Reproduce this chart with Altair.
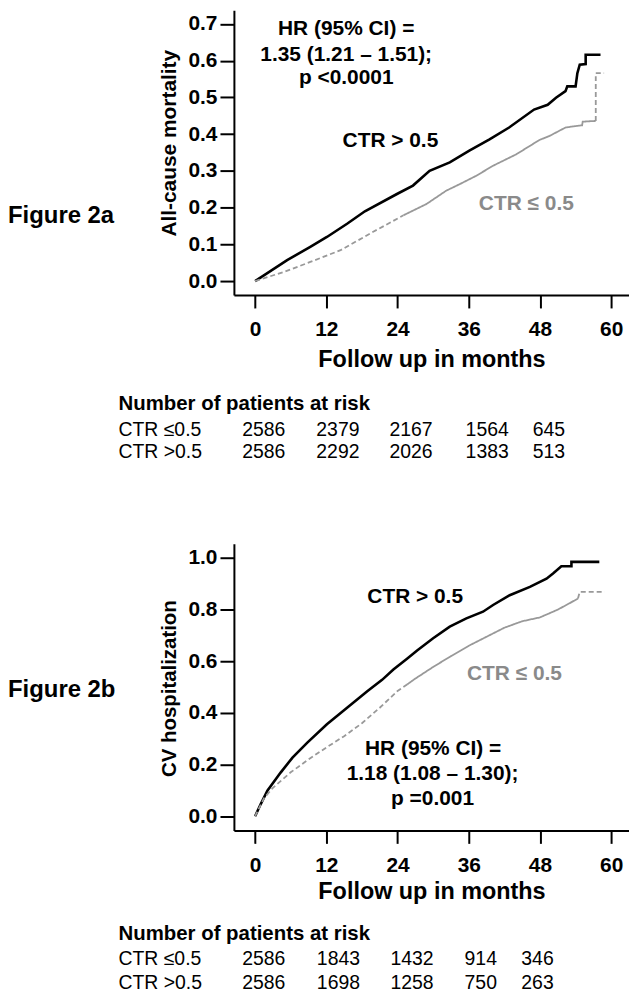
import altair as alt
import pandas as pd

FONT = "Liberation Sans"
BLACK = "#000000"
GRAY_LINE = "#999999"
GRAY_TEXT = "#8a8a8a"

# ---------------- Figure 2a : all-cause mortality ----------------
a_hi_t = [0, 5.4, 9.3, 12.1, 15.5, 18.5, 23.9, 26.6, 29.4, 32.8, 36.1, 39.5, 42.8,
          47.0, 49.3, 50.7, 52.3, 52.6, 54.0, 54.3, 54.7, 55.7, 55.7, 58.2]
a_hi_v = [0, 0.057, 0.093, 0.12, 0.156, 0.19, 0.237, 0.26, 0.30, 0.323, 0.355, 0.386, 0.418,
          0.467, 0.48, 0.499, 0.517, 0.53, 0.53, 0.566, 0.589, 0.591, 0.616, 0.616]
a_lo_t = [0, 4.9, 9.3, 14.4, 19.9, 25.0, 28.9, 32.2, 34.5, 37.3, 40.1, 44.0, 46.8, 47.9,
          49.6, 52.3, 54.0, 55.1, 55.2, 57.4, 57.4, 58.8]
a_lo_v = [0, 0.025, 0.052, 0.084, 0.134, 0.179, 0.21, 0.246, 0.264, 0.287, 0.314, 0.345,
          0.373, 0.384, 0.395, 0.418, 0.422, 0.424, 0.434, 0.436, 0.566, 0.566]

# ---------------- Figure 2b : CV hospitalization ----------------
b_hi_t = [0, 0.95, 2.07, 4.3, 6.3, 8.8, 12.1, 15.5, 18.9, 21.4, 23.3, 25.6, 27.3, 30.0,
          32.8, 35.6, 38.4, 40.1, 42.9, 46.3, 49.1, 50.2, 51.6, 53.3, 53.3, 58.0]
b_hi_v = [0, 0.047, 0.099, 0.169, 0.227, 0.285, 0.356, 0.42, 0.484, 0.528, 0.568, 0.61,
          0.642, 0.689, 0.734, 0.766, 0.792, 0.818, 0.856, 0.888, 0.92, 0.94, 0.968, 0.968,
          0.985, 0.985]
b_lo_t = [0, 1.5, 3, 6, 9, 12, 15, 18, 21, 24, 25.6, 27, 30, 33, 36, 39, 42, 45, 48, 51,
          53, 54.4, 54.7, 58.9]
b_lo_v = [0, 0.07, 0.11, 0.17, 0.22, 0.266, 0.31, 0.36, 0.42, 0.485, 0.51, 0.533, 0.578,
          0.62, 0.66, 0.695, 0.73, 0.755, 0.77, 0.80, 0.825, 0.843, 0.869, 0.869]

# ---------------- numbers at risk ----------------
risk_months = [0, 12, 24, 36, 48]
a_risk_le = [2586, 2379, 2167, 1564, 645]
a_risk_gt = [2586, 2292, 2026, 1383, 513]
b_risk_le = [2586, 1843, 1432, 914, 346]
b_risk_gt = [2586, 1698, 1258, 750, 263]

# ---------------- layout (positions / styles) ----------------
a_lo_dash_idx = (5, 19)      # solid part from point 5 to point 19
b_lo_dash_idx = (10, 21)
a_risk_pos = [1.46, 13.95, 26.28, 39.1, 49.5]     # column centres, in months on x scale
b_risk_pos = [1.46, 14.04, 26.45, 38.02, 47.58]

XS = alt.Scale(domain=[-3.57, 63.0], nice=False, zero=False)
W = 397


def x_axis(title_y):
    return alt.Axis(values=[0, 12, 24, 36, 48, 60], format="d", tickSize=13, tickWidth=2,
                    domainWidth=2, labelPadding=11, labelFontSize=21, labelFontWeight="bold",
                    labelFlush=False, title="Follow up in months", titleFontSize=23.5,
                    titleFontWeight="bold", titleY=title_y, titleBaseline="alphabetic",
                    grid=False)


def y_axis(values, title, title_y, title_size):
    return alt.Axis(values=values, format=".1f", tickSize=14, tickWidth=2, domainWidth=2,
                    labelPadding=3, labelFontSize=21, labelFontWeight="bold", labelFlush=False,
                    title=title, titleFontSize=title_size, titleFontWeight="bold",
                    titleX=-65, titleY=title_y, titleAngle=270, titleBaseline="middle",
                    titleAlign="center", grid=False)


def gray_df(t, v, idx):
    s, e = idx
    parts = [("dash", 0, s), ("solid", s, e), ("dash", e, len(t) - 1)]
    rows = []
    for k, (style, i0, i1) in enumerate(parts):
        for i in range(i0, i1 + 1):
            rows.append({"t": t[i], "v": v[i], "i": i, "seg": k, "style": style})
    return pd.DataFrame(rows)


def panel(hi_t, hi_v, lo_t, lo_v, dash_idx, ydom, yvals, ytitle, ytitle_y, ytitle_size,
          height, xtitle_y, fig_label, fig_y, annots, risk_le, risk_gt, risk_pos, table_y):
    YS = alt.Scale(domain=ydom, nice=False, zero=False)
    XA = x_axis(xtitle_y)
    YA = y_axis(yvals, ytitle, ytitle_y, ytitle_size)
    X = alt.X("t:Q", scale=XS, axis=XA)
    Y = alt.Y("v:Q", scale=YS, axis=YA)

    hi = pd.DataFrame({"t": hi_t, "v": hi_v, "i": list(range(len(hi_t)))})
    black = alt.Chart(hi).mark_line(color=BLACK, strokeWidth=2.6).encode(
        x=X, y=Y, order="i:Q")

    gray = alt.Chart(gray_df(lo_t, lo_v, dash_idx)).mark_line(
        color=GRAY_LINE, strokeWidth=1.8).encode(
        x=X, y=Y, order="i:Q", detail="seg:N",
        strokeDash=alt.StrokeDash("style:N", legend=None,
                                  scale=alt.Scale(domain=["dash", "solid"],
                                                  range=[[5, 3], [1, 0]])))

    ann = pd.DataFrame(annots, columns=["t", "v", "label", "col"])
    ann_layer = alt.Chart(ann).mark_text(fontSize=21, fontWeight="bold", align="center",
                                         baseline="middle").encode(
        x=X, y=Y, text="label:N", color=alt.Color("col:N", scale=None))

    fig = alt.Chart(pd.DataFrame({"label": [fig_label]})).mark_text(
        fontSize=24, fontWeight="bold", align="left", baseline="alphabetic").encode(
        x=alt.value(-227), y=alt.value(fig_y), text="label:N")

    ttl = alt.Chart(pd.DataFrame({"label": ["Number of patients at risk"]})).mark_text(
        fontSize=20.5, fontWeight="bold", align="left", baseline="alphabetic").encode(
        x=alt.value(-116), y=alt.value(table_y[0]), text="label:N")

    layers = [black, gray, ann_layer, fig, ttl]
    for row_label, counts, ry in (("CTR \u22640.5", risk_le, table_y[1]),
                                  ("CTR >0.5", risk_gt, table_y[2])):
        layers.append(alt.Chart(pd.DataFrame({"label": [row_label]})).mark_text(
            fontSize=19.5, align="left", baseline="alphabetic").encode(
            x=alt.value(-116), y=alt.value(ry), text="label:N"))
        df = pd.DataFrame({"t": risk_pos, "m": risk_months, "n": counts})
        layers.append(alt.Chart(df).mark_text(
            fontSize=19.5, align="center", baseline="alphabetic").encode(
            x=X, y=alt.value(ry), text=alt.Text("n:Q", format="d")))

    return alt.layer(*layers).properties(width=W, height=height)


annots_a = [
    (15.35, 0.686, "HR (95% CI) =", BLACK),
    (15.35, 0.616, "1.35 (1.21 \u2013 1.51);", BLACK),
    (15.35, 0.553, "p <0.0001", BLACK),
    (22.8, 0.381, "CTR > 0.5", BLACK),
    (45.7, 0.211, "CTR \u2264 0.5", GRAY_TEXT),
]
annots_b = [
    (30.0, 0.261, "HR (95% CI) =", BLACK),
    (29.9, 0.163, "1.18 (1.08 \u2013 1.30);", BLACK),
    (29.9, 0.067, "p =0.001", BLACK),
    (26.97, 0.850, "CTR > 0.5", BLACK),
    (43.7, 0.552, "CTR \u2264 0.5", GRAY_TEXT),
]

pa = panel(a_hi_t, a_hi_v, a_lo_t, a_lo_v, a_lo_dash_idx, [-0.038, 0.737],
           [0, 0.1, 0.2, 0.3, 0.4, 0.5, 0.6, 0.7], "All-cause mortality", 133, 21,
           286, 72, "Figure 2a", 214, annots_a, a_risk_le, a_risk_gt, a_risk_pos,
           [401.3, 428, 449.7])
pb = panel(b_hi_t, b_hi_v, b_lo_t, b_lo_v, b_lo_dash_idx, [-0.055, 1.055],
           [0, 0.2, 0.4, 0.6, 0.8, 1.0], "CV hospitalization", 145, 20.5,
           288, 68, "Figure 2b", 154, annots_b, b_risk_le, b_risk_gt, b_risk_pos,
           [398.3, 423.3, 447.7])

chart = alt.vconcat(pa, pb, spacing=82).properties(padding=0).configure_view(
    stroke=None).configure_axis(
    domainColor=BLACK, tickColor=BLACK, labelColor=BLACK, titleColor=BLACK,
    labelFont=FONT, titleFont=FONT, grid=False).configure_text(font=FONT)

chart.save("out.html", embed_options={"renderer": "svg", "actions": False})
